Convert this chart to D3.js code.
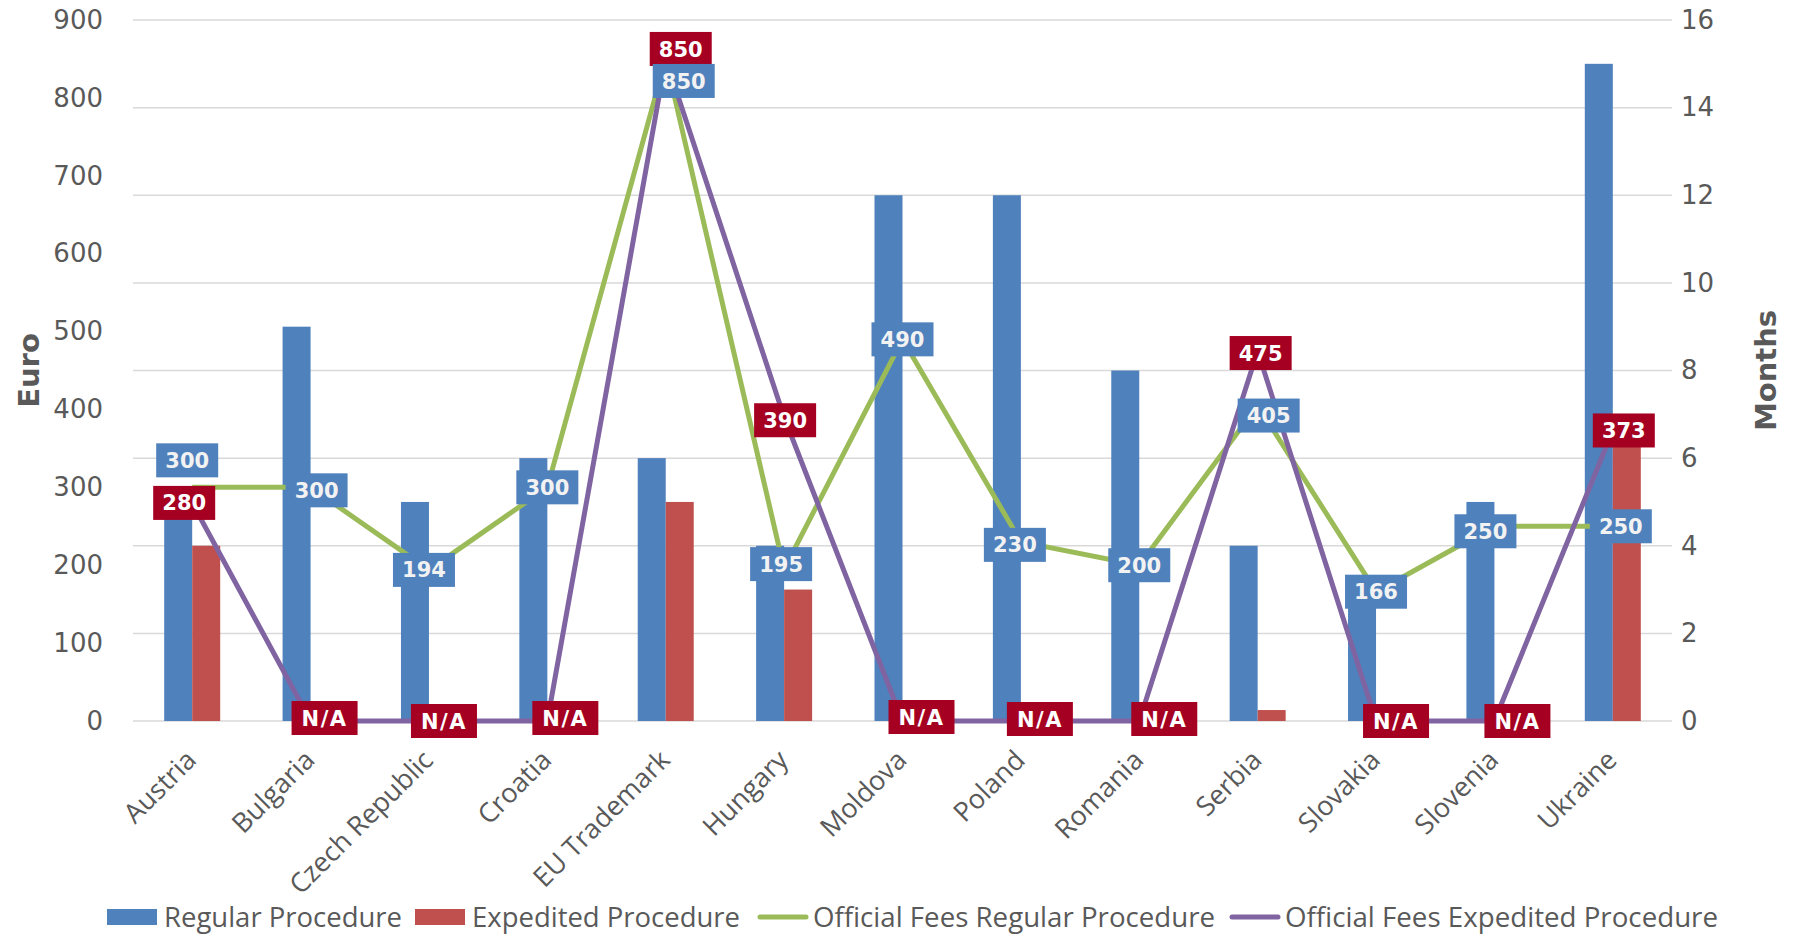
<!DOCTYPE html>
<html>
<head>
<meta charset="utf-8">
<script src="https://cdn.jsdelivr.net/npm/d3@7"></script>
<style>
  body { margin: 0; background: #fff; }
</style>
</head>
<body>
<script>
const categories = ["Austria", "Bulgaria", "Czech Republic", "Croatia", "EU Trademark", "Hungary",
    "Moldova", "Poland", "Romania", "Serbia", "Slovakia", "Slovenia", "Ukraine"];
// months (right axis)
const regularMonths = [5, 9, 5, 6, 6, 4, 12, 12, 8, 4, 3, 5, 15];
const expeditedMonths = [4, null, null, null, 5, 3, null, null, null, 0.25, null, null, 7];
// euro (left axis), null = N/A
const regularFees = [300, 300, 194, 300, 850, 195, 490, 230, 200, 405, 166, 250, 250];
const expeditedFees = [280, null, null, null, 850, 390, null, null, null, 475, null, null, 373];
const euroTicks = [0, 100, 200, 300, 400, 500, 600, 700, 800, 900];
const monthTicks = [0, 2, 4, 6, 8, 10, 12, 14, 16];
const legendItems = ["Regular Procedure", "Expedited Procedure", "Official Fees Regular Procedure", "Official Fees Expedited Procedure"];

// hand placed label nudges, like the original
const regularNudge = [[-5,-27],[6,3],[-5,0],[0,0],[18,22],[-3,-5],[0,0],[-6,3],[0,0],[11,10],[0,0],[-9,5],[8,0]];
const expeditedNudge = [[-8,0],[14,-3],[15,0],[18,-3],[15,-10],[1,3],[19,-4],[19,-2],[25,-2],[3,2],[20,0],[23,0],[11,0]];

const width = 1798, height = 937;
const plot = {left: 133, right: 1672, top: 20, bottom: 721};
const colors = {blue: "#4F81BD", red: "#C0504D", green: "#9BBB59", purple: "#8064A2", label: "#A50021", text: "#595959", grid: "#D9D9D9"};
const verdana = "DejaVu Sans, Verdana, sans-serif";
const sans = "Open Sans, sans-serif";

let svg = d3.select("body").append("svg")
    .attr("width", width)
    .attr("height", height)
    .attr("font-family", verdana);

let x = d3.scaleBand().domain(categories).range([plot.left, plot.right]);
let xSub = d3.scaleBand().domain(["regular", "expedited"])
    .range([0, x.bandwidth()])
    .paddingOuter(1.114);
let yEuro = d3.scaleLinear().domain([0, 900]).range([plot.bottom, plot.top]);
let yMonths = d3.scaleLinear().domain([0, 16]).range([plot.bottom, plot.top]);

// gridlines follow the months axis
svg.append("g")
    .selectAll("line")
    .data(monthTicks)
    .enter()
    .append("line")
    .attr("x1", plot.left).attr("x2", plot.right)
    .attr("y1", d => yMonths(d)).attr("y2", d => yMonths(d))
    .attr("stroke", colors.grid)
    .attr("stroke-width", 1.5);

// axes
let leftAxis = svg.append("g")
    .attr("transform", `translate(${plot.left},0)`)
    .call(d3.axisLeft(yEuro).tickValues(euroTicks).tickSize(0).tickPadding(30));
let rightAxis = svg.append("g")
    .attr("transform", `translate(${plot.right},0)`)
    .call(d3.axisRight(yMonths).tickValues(monthTicks).tickSize(0).tickPadding(9));
[leftAxis, rightAxis].forEach(a => {
    a.attr("font-family", verdana).attr("font-size", 26);
    a.select(".domain").remove();
    a.selectAll("text").attr("fill", colors.text);
});

let bottomAxis = svg.append("g")
    .attr("transform", `translate(0,${plot.bottom})`)
    .call(d3.axisBottom(x).tickSize(0).tickFormat(""));
bottomAxis.select(".domain").remove();

svg.append("g")
    .attr("font-family", sans)
    .attr("font-size", 27)
    .selectAll("text")
    .data(categories)
    .enter()
    .append("text")
    .attr("transform", d => `translate(${x(d) + x.bandwidth()/2 - 8},${plot.bottom + 27}) rotate(-45)`)
    .attr("text-anchor", "end")
    .attr("dy", "0.72em")
    .attr("fill", colors.text)
    .text(d => d);

// axis titles
svg.append("text")
    .attr("transform", `translate(29,${(plot.top + plot.bottom)/2}) rotate(-90)`)
    .attr("text-anchor", "middle")
    .attr("dy", "0.36em")
    .attr("font-weight", "bold")
    .attr("font-size", 29)
    .attr("fill", colors.text)
    .text("Euro");
svg.append("text")
    .attr("transform", `translate(1766,${(plot.top + plot.bottom)/2}) rotate(-90)`)
    .attr("text-anchor", "middle")
    .attr("dy", "0.36em")
    .attr("font-weight", "bold")
    .attr("font-size", 29)
    .attr("fill", colors.text)
    .text("Months");

// bars
let barData = categories.map((c, i) => ({category: c, regular: regularMonths[i], expedited: expeditedMonths[i]}));
let bars = svg.append("g")
    .selectAll("g")
    .data(barData)
    .enter()
    .append("g")
    .attr("transform", d => `translate(${x(d.category)},0)`);
bars.selectAll("rect")
    .data(d => ["regular", "expedited"].filter(k => d[k] != null).map(k => ({key: k, value: d[k]})))
    .enter()
    .append("rect")
    .attr("x", d => xSub(d.key))
    .attr("width", xSub.bandwidth())
    .attr("y", d => yMonths(d.value))
    .attr("height", d => yMonths(0) - yMonths(d.value))
    .attr("fill", d => d.key === "regular" ? colors.blue : colors.red);

// fee lines
const cx = c => x(c) + x.bandwidth()/2;
let line = d3.line()
    .x(d => cx(d.category))
    .y(d => yEuro(d.value ?? 0));
let regularPts = categories.map((c, i) => ({category: c, value: regularFees[i], nudge: regularNudge[i]}));
let expeditedPts = categories.map((c, i) => ({category: c, value: expeditedFees[i], nudge: expeditedNudge[i]}));

svg.append("path")
    .datum(regularPts)
    .attr("d", line)
    .attr("fill", "none")
    .attr("stroke", colors.green)
    .attr("stroke-width", 5)
    .attr("stroke-linejoin", "round");
svg.append("path")
    .datum(expeditedPts)
    .attr("d", line)
    .attr("fill", "none")
    .attr("stroke", colors.purple)
    .attr("stroke-width", 5)
    .attr("stroke-linejoin", "round");

// data labels
function drawLabels(points, boxColor, textColor) {
    let g = svg.append("g")
        .selectAll("g")
        .data(points)
        .enter()
        .append("g")
        .attr("transform", d => `translate(${cx(d.category) + d.nudge[0]},${yEuro(d.value ?? 0) + d.nudge[1]})`);
    g.append("rect")
        .attr("x", d => d.value == null ? -33 : -31)
        .attr("y", -17)
        .attr("width", d => d.value == null ? 66 : 62)
        .attr("height", 34)
        .attr("fill", boxColor);
    g.append("text")
        .attr("text-anchor", "middle")
        .attr("dy", "0.36em")
        .attr("font-weight", "bold")
        .attr("font-size", 21)
        .attr("letter-spacing", d => d.value == null ? 1.5 : 0)
        .attr("fill", textColor)
        .text(d => d.value == null ? "N/A" : d.value);
}
drawLabels(expeditedPts, colors.label, "#FFFFFF");
drawLabels(regularPts, colors.blue, "#F2F2F2");

// legend
const legendY = 917;
const legendX = [107, 415, 757, 1229];
const legendTextW = [238, 268, 402, 433];
let legend = svg.append("g")
    .selectAll("g")
    .data(legendItems)
    .enter()
    .append("g")
    .attr("transform", (d, i) => `translate(${legendX[i]},${legendY})`);
legend.each(function(d, i) {
    let g = d3.select(this);
    if (i < 2) {
        g.append("rect")
            .attr("x", 0).attr("y", -8)
            .attr("width", 50).attr("height", 16)
            .attr("fill", i === 0 ? colors.blue : colors.red);
    } else {
        g.append("line")
            .attr("x1", 3).attr("x2", 49)
            .attr("stroke", i === 2 ? colors.green : colors.purple)
            .attr("stroke-width", 5)
            .attr("stroke-linecap", "round");
    }
});
legend.append("text")
    .attr("x", (d, i) => i < 2 ? 57 : 56)
    .attr("dy", "0.36em")
    .attr("font-family", sans)
    .attr("font-size", 28)
    .attr("fill", colors.text)
    .attr("textLength", (d, i) => legendTextW[i])
    .attr("lengthAdjust", "spacingAndGlyphs")
    .text(d => d);
</script>
</body>
</html>
